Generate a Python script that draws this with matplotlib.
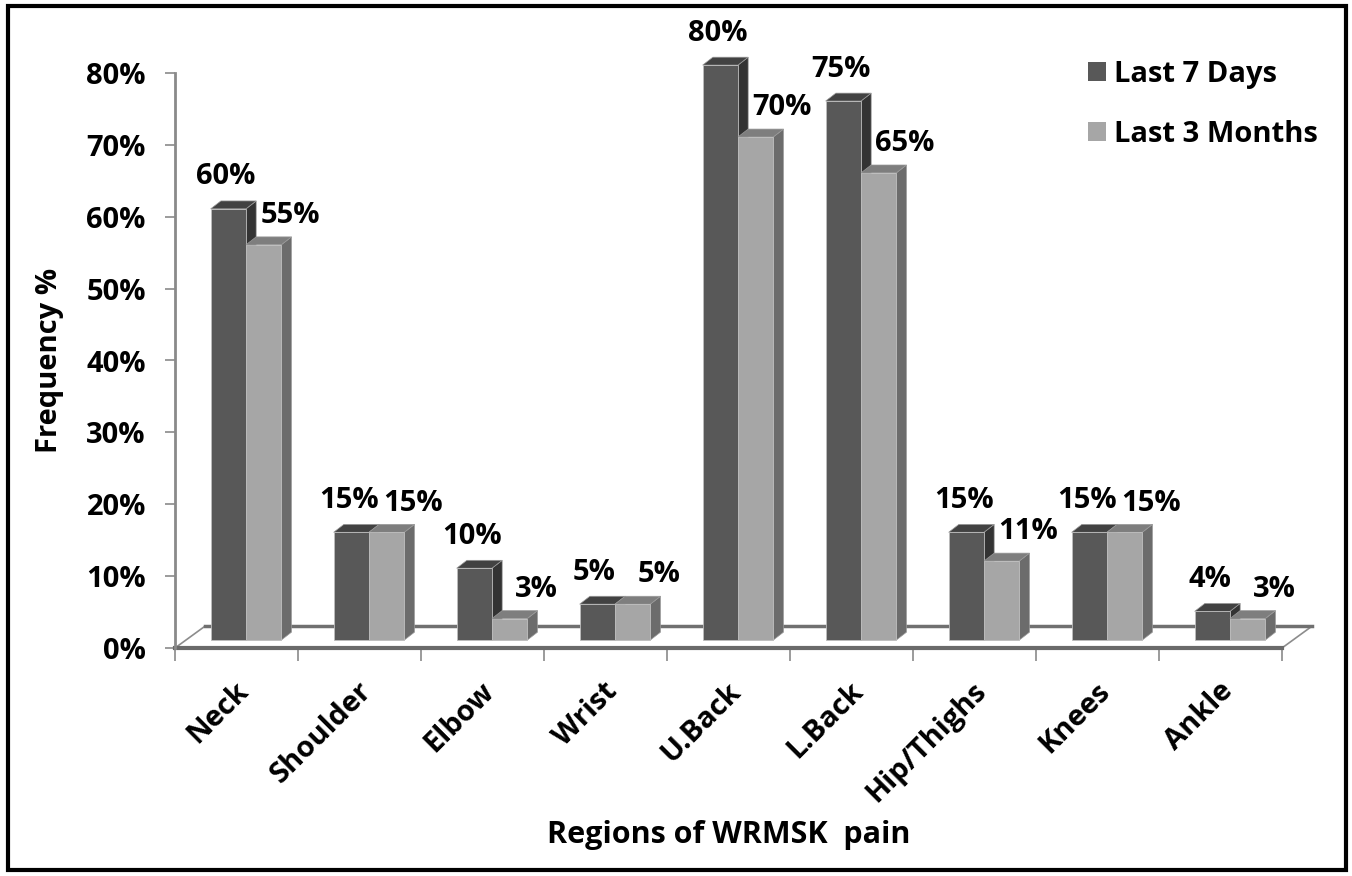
import numpy as np
import matplotlib
matplotlib.use("Agg")
import matplotlib.pyplot as plt
from matplotlib.patches import Polygon, Rectangle, Patch

# データ
regions = ["Neck", "Shoulder", "Elbow", "Wrist", "U.Back", "L.Back",
           "Hip/Thighs", "Knees", "Ankle"]
last_7_days = [60, 15, 10, 5, 80, 75, 15, 15, 4]
last_3_months = [55, 15, 3, 5, 70, 65, 11, 15, 3]
y_ticks = [0, 10, 20, 30, 40, 50, 60, 70, 80]

FS = 21
plt.rcParams["font.family"] = ["Open Sans", "DejaVu Sans"]
plt.rcParams["font.weight"] = "bold"
plt.rcParams["font.size"] = FS

W, H = 1352, 876
fig = plt.figure(figsize=(W / 100, H / 100), dpi=100)
ax = fig.add_axes([175 / W, 228 / H, 1107 / W, 575 / H])
ax.set_xlim(0, len(regions))
ax.set_ylim(0, 80)

# 疑似3Dのための奥行き (データ単位)
dx, dy = 0.083, 1.1
fdx, fdy = 0.245, 3.05
base = 1.1
offset = 0.29
width = 0.287

dark = {"front": "#585858", "top": "#424242", "side": "#333333"}
light = {"front": "#a6a6a6", "top": "#7e7e7e", "side": "#6c6c6c"}

# 床
n = len(regions)
floor = Polygon([(0, 0), (n, 0), (n + fdx, fdy), (fdx, fdy)], closed=True,
                facecolor="white", edgecolor="#8c8c8c", lw=1.2,
                clip_on=False, zorder=1)
ax.add_patch(floor)
ax.plot([0, n], [0, 0], color="#6a6a6a", lw=3, clip_on=False, zorder=2)
ax.plot([fdx, n + fdx], [fdy, fdy], color="#707070", lw=2.5,
        clip_on=False, zorder=1.5)


def draw_bar(x0, h, cols, z):
    top = base + h
    side = Polygon([(x0 + width, base), (x0 + width + dx, base + dy),
                    (x0 + width + dx, top + dy), (x0 + width, top)],
                   facecolor=cols["side"], edgecolor="#9a9a9a", lw=0.5,
                   clip_on=False, zorder=z)
    lid = Polygon([(x0, top), (x0 + dx, top + dy), (x0 + width + dx, top + dy),
                   (x0 + width, top)],
                  facecolor=cols["top"], edgecolor="#9a9a9a", lw=0.5,
                  clip_on=False, zorder=z)
    ax.add_patch(side)
    ax.add_patch(lid)
    ax.bar(x0, h, width=width, bottom=base, align="edge", color=cols["front"],
           edgecolor="#bdbdbd", lw=0.6, zorder=z, clip_on=False)


for i, (a, b) in enumerate(zip(last_7_days, last_3_months)):
    x_dark = i + offset
    x_light = i + offset + width
    draw_bar(x_dark, a, dark, 3 + i * 0.1)
    draw_bar(x_light, b, light, 3.05 + i * 0.1)
    ax.annotate(f"{a}%", xy=(x_dark + width / 2, base + a),
                xytext=(-2, 23), textcoords="offset points",
                ha="center", va="center", fontsize=FS, fontweight="bold",
                annotation_clip=False)
    ax.annotate(f"{b}%", xy=(x_light + width / 2, base + b),
                xytext=(19, 21), textcoords="offset points",
                ha="center", va="center", fontsize=FS, fontweight="bold",
                annotation_clip=False)
    ax.text(i + 0.48, -4.0, regions[i], rotation=45, rotation_mode="anchor",
            ha="right", va="top", fontsize=FS, fontweight="bold")

# 軸
for s in ["top", "right", "bottom"]:
    ax.spines[s].set_visible(False)
ax.spines["left"].set_color("#8a8a8a")
ax.spines["left"].set_linewidth(2)
ax.set_yticks(y_ticks)
ax.set_yticklabels([f"{t}%" for t in y_ticks], fontweight="bold")
ax.tick_params(axis="y", direction="out", length=7, width=1.2,
               color="#8a8a8a", pad=14)
ax.set_xticks(np.arange(n + 1))
ax.set_xticklabels([])
ax.tick_params(axis="x", direction="out", length=9, width=1.2,
               color="#8a8a8a")

ax.text(-0.113, 0.5, "Frequency %", transform=ax.transAxes, rotation=90,
        ha="center", va="center", fontsize=FS, fontweight="bold")
ax.text(0.5, -0.325, "Regions of WRMSK  pain", transform=ax.transAxes,
        ha="center", va="center", fontsize=FS + 1, fontweight="bold")

handles = [Patch(facecolor=dark["front"], label="Last 7 Days"),
           Patch(facecolor=light["front"], label="Last 3 Months")]
fig.legend(handles=handles, loc="upper left",
           bbox_to_anchor=(1088 / W, (H - 60) / H), frameon=False,
           borderpad=0, borderaxespad=0, handlelength=0.6, handleheight=0.6,
           handletextpad=0.3, labelspacing=1.05,
           prop={"size": FS, "weight": "bold"})

fig.add_artist(Rectangle((8 / W, 6 / H), 1338 / W, 864 / H, fill=False,
                         edgecolor="black", lw=3, transform=fig.transFigure))

fig.savefig("out.png", dpi=100)
